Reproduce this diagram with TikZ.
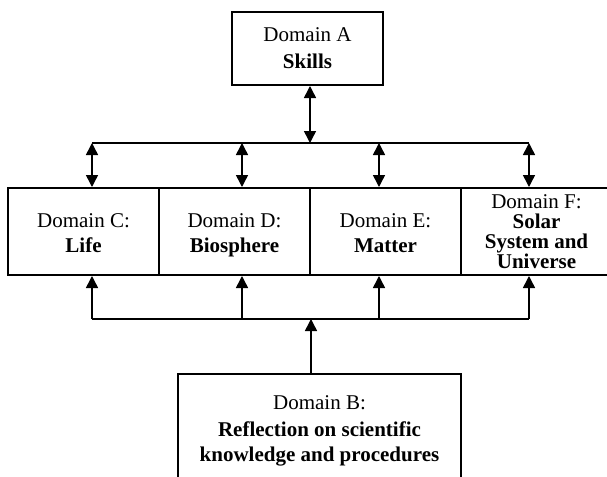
\documentclass[tikz,border=0pt]{standalone}
\usepackage{fontspec}
\setmainfont{Liberation Serif}
\usetikzlibrary{arrows.meta}
\newcommand\tallline{\rule{0pt}{10.5pt}}
\begin{document}
\begin{tikzpicture}[x=0.5pt,y=-0.5pt,
  box/.style={draw,line width=1pt,minimum width=75.5pt,minimum height=43.5pt,
    inner sep=0pt,align=center,font=\fontsize{10.5}{12.5}\selectfont},
  link/.style={line width=0.75pt,-{Triangle[length=6pt,width=6pt]}},
  both/.style={line width=0.75pt,{Triangle[length=6pt,width=6pt]}-{Triangle[length=6pt,width=6pt]}},
  bus/.style={line width=0.75pt}]
\useasboundingbox (0,0) rectangle (607,477);
\clip (0,0) rectangle (607,477);

% domain boxes
\node[box,minimum height=36.5pt] (A) at (307.5,48.5) {Domain A\\[1pt]\textbf{Skills}};
\node[box] (C) at (83.5,231.5) {\tallline Domain C:\\\textbf{Life}\vphantom{p}};
\node[box] (D) at (234.5,231.5) {\tallline Domain D:\\\textbf{Biosphere}};
\node[box] (E) at (385.5,231.5) {\tallline Domain E:\\\textbf{Matter}\vphantom{p}};
\node[box,font=\fontsize{10.5}{10}\selectfont] (F) at (536.5,231.5)
  {Domain F:\\\textbf{Solar}\\\textbf{System and}\\\textbf{Universe}};
\node[box,minimum width=141.5pt,minimum height=57pt] (B) at (319.5,431)
  {Domain B:\\[1pt]\textbf{Reflection on scientific}\\\textbf{knowledge and procedures}};

% junctions of the upper bus
\coordinate (top) at (310,143);
\coordinate (t1) at (92,143);
\coordinate (t2) at (242,143);
\coordinate (t3) at (379,143);
\coordinate (t4) at (529,143);
% junctions of the lower bus
\coordinate (bot) at (311,319);
\coordinate (b1) at (92,319);
\coordinate (b2) at (242,319);
\coordinate (b3) at (379,319);
\coordinate (b4) at (529,319);

% skills link to all content domains
\draw[both] (A.south -| top) -- (top);
\draw[bus] (t1) -- (t4);
\draw[both] (t1) -- (C.north -| t1);
\draw[both] (t2) -- (D.north -| t2);
\draw[both] (t3) -- (E.north -| t3);
\draw[both] (t4) -- (F.north -| t4);

% reflection feeds all content domains
\draw[link] (B.north -| bot) -- (bot);
\draw[bus] (b1) -- (b4);
\draw[link] (b1) -- (C.south -| b1);
\draw[link] (b2) -- (D.south -| b2);
\draw[link] (b3) -- (E.south -| b3);
\draw[link] (b4) -- (F.south -| b4);
\end{tikzpicture}
\end{document}
